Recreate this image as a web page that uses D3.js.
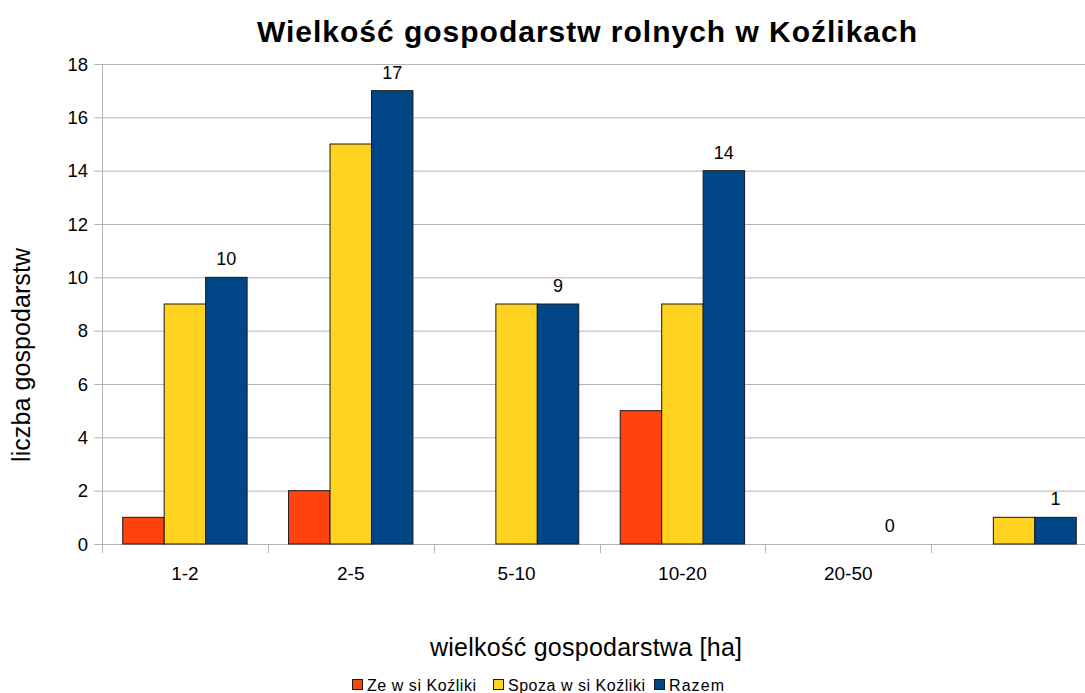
<!DOCTYPE html>
<html><head><meta charset="utf-8">
<script src="https://cdn.jsdelivr.net/npm/d3@7"></script>
<style>body{margin:0;background:#fff;} svg{display:block;font-family:"Liberation Sans",Arial,sans-serif;}</style>
</head><body>
<script>
const categories = ["1-2","2-5","5-10","10-20","20-50",""];
const seriesNames = ["Ze w si Koźliki","Spoza w si Koźliki","Razem"];
const zeWsi = [1,2,0,5,0,0];
const spoza = [9,15,9,9,0,1];
const razem = [10,17,9,14,0,1];
const yTicks = [0,2,4,6,8,10,12,14,16,18];
const colors = ["#ff420e","#ffd320","#004586"];

(function(){
const W=1085,H=693;
const svg=d3.select("body").append("svg").attr("width",W).attr("height",H);
const pL=102,pR=1097,pT=64,pB=544;
const x=d3.scaleBand().domain(categories.map((c,i)=>i)).range([pL,pR]);
const xs=d3.scaleBand().domain([0,1,2]).range([0,x.bandwidth()]).paddingOuter(0.5).paddingInner(0);
const y=d3.scaleLinear().domain([0,18]).range([pB,pT]);

svg.append("g").selectAll("line").data(yTicks).join("line")
 .attr("x1",94).attr("x2",pR).attr("y1",d=>y(d)+0.5).attr("y2",d=>y(d)+0.5)
 .attr("stroke","#b3b3b3").attr("stroke-width",1);
svg.append("line").attr("x1",pL+0.5).attr("x2",pL+0.5).attr("y1",pT).attr("y2",pB+9).attr("stroke","#b3b3b3");
const bounds=d3.range(categories.length+1).map(i=>pL+i*x.step());
svg.append("g").selectAll("line").data(bounds).join("line")
 .attr("x1",d=>Math.round(d)+0.5).attr("x2",d=>Math.round(d)+0.5).attr("y1",pB).attr("y2",pB+9)
 .attr("stroke","#b3b3b3");
svg.append("g").selectAll("text").data(yTicks).join("text")
 .attr("x",88).attr("y",d=>y(d)+6.5).attr("text-anchor","end").attr("font-size",18.5).text(d=>d);
svg.append("g").selectAll("text").data(categories).join("text")
 .attr("x",(d,i)=>x(i)+x.bandwidth()/2).attr("y",580).attr("text-anchor","middle").attr("font-size",19).text(d=>d);

const series=[zeWsi,spoza,razem];
series.forEach((vals,s)=>{
  svg.append("g").selectAll("rect").data(vals.map((v,i)=>({v,i})).filter(d=>d.v>0)).join("rect")
   .attr("x",d=>x(d.i)+xs(s)).attr("width",xs.bandwidth())
   .attr("y",d=>y(d.v)).attr("height",d=>y(0)-y(d.v))
   .attr("fill",colors[s]).attr("stroke","#1a1a1a").attr("stroke-width",1);
});
svg.append("g").selectAll("text").data(razem.map((v,i)=>({v,i}))).join("text")
 .attr("x",d=>x(d.i)+xs(2)+xs.bandwidth()/2).attr("y",d=>y(d.v)-12)
 .attr("text-anchor","middle").attr("font-size",18).text(d=>d.v);

svg.append("text").attr("x",587).attr("y",42).attr("text-anchor","middle").attr("font-size",30).attr("font-weight","bold")
 .attr("textLength",660).attr("lengthAdjust","spacing")
 .text("Wielkość gospodarstw rolnych w Koźlikach");
svg.append("text").attr("x",586).attr("y",656).attr("text-anchor","middle").attr("font-size",25)
 .attr("textLength",312).attr("lengthAdjust","spacing").text("wielkość gospodarstwa [ha]");
svg.append("text").attr("transform","translate(30,355) rotate(-90)").attr("text-anchor","middle").attr("font-size",25)
 .attr("textLength",214).attr("lengthAdjust","spacing").text("liczba gospodarstw");

const leg=[{x:352,t:seriesNames[0],w:109},{x:493,t:seriesNames[1],w:137},{x:654,t:seriesNames[2],w:55}];
leg.forEach((l,i)=>{
  svg.append("rect").attr("x",l.x+0.5).attr("y",679.5).attr("width",10).attr("height",10).attr("fill",colors[i]).attr("stroke","#1a1a1a");
  svg.append("text").attr("x",l.x+15).attr("y",690.5).attr("font-size",16)
   .attr("textLength",l.w).attr("lengthAdjust","spacing").text(l.t);
});
})();
</script>
</body></html>
